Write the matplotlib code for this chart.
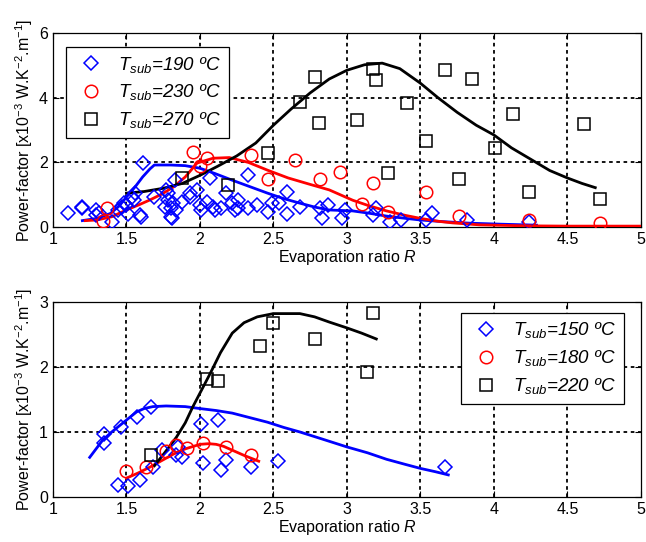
import matplotlib
matplotlib.use("Agg")
import matplotlib.pyplot as plt
from matplotlib.lines import Line2D

plt.rcParams['font.family'] = ['Liberation Sans', 'DejaVu Sans']
plt.rcParams['mathtext.fontset'] = 'custom'
plt.rcParams['mathtext.rm'] = 'Liberation Sans'
plt.rcParams['mathtext.it'] = 'Liberation Sans:italic'

# ---------------- Top panel data ----------------
top_labels = ["190 ºC", "230 ºC", "270 ºC"]

top_blue_x = [1.10, 1.20, 1.20, 1.29, 1.29, 1.31, 1.40, 1.44, 1.47, 1.48, 1.51, 1.50, 1.54, 1.55,
              1.56, 1.59, 1.60, 1.61, 1.69, 1.76, 1.77, 1.78, 1.78, 1.80, 1.80, 1.81, 1.82, 1.83,
              1.84, 1.88, 1.93, 1.93, 1.98, 2.00, 2.01, 2.05, 2.07, 2.09, 2.10, 2.14, 2.18, 2.22,
              2.24, 2.26, 2.26, 2.33, 2.33, 2.39, 2.46, 2.49, 2.54, 2.59, 2.59, 2.68, 2.82, 2.83,
              2.87, 2.97, 2.99, 3.18, 3.20, 3.29, 3.37, 3.54, 3.58, 3.82, 4.24]
top_blue_y = [0.43, 0.58, 0.62, 0.53, 0.37, 0.43, 0.16, 0.53, 0.62, 0.73, 0.42, 0.68, 0.93, 0.84,
              1.04, 0.37, 0.31, 1.97, 0.94, 0.62, 1.14, 0.84, 1.05, 0.58, 0.31, 0.27, 0.73, 1.46,
              0.53, 0.78, 0.94, 1.05, 1.14, 0.68, 0.53, 0.78, 1.52, 0.62, 0.53, 0.58, 1.04, 0.73,
              0.53, 0.84, 0.58, 1.61, 0.58, 0.68, 0.47, 0.73, 0.73, 1.09, 0.42, 0.62, 0.58, 0.27,
              0.68, 0.27, 0.53, 0.37, 0.58, 0.16, 0.22, 0.22, 0.43, 0.22, 0.16]

top_red_x = [1.34, 1.37, 1.95, 2.00, 2.05, 2.35, 2.46, 2.65, 2.82, 2.95, 3.10, 3.18, 3.28, 3.54,
             3.76, 4.24, 4.72]
top_red_y = [0.20, 0.58, 2.33, 1.90, 2.13, 2.23, 1.48, 2.07, 1.49, 1.70, 0.71, 1.36, 0.46, 1.08,
             0.34, 0.22, 0.12]

top_black_x = [1.88, 2.19, 2.46, 2.68, 2.78, 2.81, 3.07, 3.18, 3.20, 3.28, 3.41, 3.54, 3.67, 3.76,
               3.85, 4.01, 4.13, 4.24, 4.61, 4.72]
top_black_y = [1.52, 1.30, 2.29, 3.87, 4.65, 3.22, 3.31, 4.89, 4.55, 1.67, 3.84, 2.66, 4.86, 1.49,
               4.58, 2.44, 3.50, 1.08, 3.19, 0.87]

# fitted curves
top_blue_fit_x = [1.20, 1.30, 1.39, 1.45, 1.50, 1.56, 1.61, 1.66, 1.69, 1.80, 1.90, 2.00, 2.10, 2.22,
                  2.34, 2.46, 2.57, 2.68, 2.78, 2.88, 3.04, 3.15, 3.27, 3.40, 3.50, 3.65, 3.84, 4.05, 4.29]
top_blue_fit_y = [0.20, 0.27, 0.42, 0.65, 0.93, 1.25, 1.55, 1.80, 1.92, 1.92, 1.90, 1.82, 1.66, 1.45,
                  1.25, 1.05, 0.88, 0.74, 0.62, 0.53, 0.50, 0.43, 0.34, 0.27, 0.22, 0.17, 0.12, 0.09, 0.06]

top_red_fit_x = [1.22, 1.30, 1.40, 1.50, 1.58, 1.66, 1.74, 1.82, 1.90, 1.98, 2.09, 2.20, 2.33, 2.46,
                 2.60, 2.75, 2.88, 3.04, 3.15, 3.27, 3.40, 3.50, 3.62, 3.72, 3.90, 4.20, 4.50, 5.00]
top_red_fit_y = [0.20, 0.22, 0.32, 0.53, 0.68, 0.84, 1.02, 1.24, 1.55, 1.98, 2.13, 2.15, 2.00, 1.76,
                 1.52, 1.32, 1.15, 0.83, 0.66, 0.50, 0.36, 0.27, 0.18, 0.13, 0.07, 0.04, 0.03, 0.03]

top_black_fit_x = [1.50, 1.62, 1.75, 1.88, 2.00, 2.12, 2.25, 2.38, 2.50, 2.62, 2.75, 2.88, 3.00,
                   3.12, 3.24, 3.36, 3.50, 3.62, 3.75, 3.88, 4.00, 4.12, 4.25, 4.38, 4.50, 4.60, 4.69]
top_black_fit_y = [1.05, 1.10, 1.20, 1.35, 1.60, 1.88, 2.20, 2.60, 3.15, 3.65, 4.15, 4.58, 4.85,
                   5.02, 5.07, 4.90, 4.45, 4.00, 3.55, 3.15, 2.85, 2.45, 2.10, 1.75, 1.52, 1.35, 1.22]

# ---------------- Bottom panel data ----------------
bot_labels = ["150 ºC", "180 ºC", "220 ºC"]

bot_blue_x = [1.35, 1.35, 1.46, 1.57, 1.67, 1.74, 1.68, 1.44, 1.51, 1.59, 1.84, 1.88, 1.85, 2.01,
              2.02, 2.12, 2.14, 2.18, 2.35, 2.53, 3.67]
bot_blue_y = [0.97, 0.83, 1.08, 1.23, 1.38, 0.72, 0.46, 0.18, 0.17, 0.26, 0.64, 0.62, 0.77, 1.12,
              0.52, 1.18, 0.42, 0.57, 0.46, 0.55, 0.46]

bot_red_x = [1.50, 1.63, 1.77, 1.84, 1.91, 2.02, 2.18, 2.35]
bot_red_y = [0.40, 0.46, 0.70, 0.80, 0.75, 0.83, 0.77, 0.65]

bot_black_x = [1.67, 2.05, 2.12, 2.41, 2.50, 2.78, 3.18, 3.14]
bot_black_y = [0.65, 1.82, 1.78, 2.32, 2.68, 2.43, 2.83, 1.92]

bot_blue_fit_x = [1.25, 1.34, 1.40, 1.46, 1.52, 1.57, 1.62, 1.68, 1.77, 1.90, 2.00, 2.11, 2.22, 2.34,
                  2.46, 2.57, 2.68, 2.82, 3.00, 3.14, 3.27, 3.40, 3.50, 3.60, 3.69]
bot_blue_fit_y = [0.61, 0.88, 1.00, 1.11, 1.22, 1.31, 1.36, 1.39, 1.40, 1.39, 1.36, 1.33, 1.29, 1.22,
                  1.15, 1.07, 1.00, 0.90, 0.77, 0.68, 0.58, 0.50, 0.44, 0.39, 0.34]

bot_red_fit_x = [1.50, 1.58, 1.66, 1.74, 1.82, 1.90, 2.00, 2.06, 2.11, 2.16, 2.22, 2.30, 2.40]
bot_red_fit_y = [0.29, 0.37, 0.46, 0.56, 0.66, 0.74, 0.81, 0.82, 0.81, 0.78, 0.72, 0.64, 0.55]

bot_black_fit_x = [1.69, 1.76, 1.84, 1.90, 1.95, 2.01, 2.07, 2.14, 2.22, 2.30, 2.39, 2.50, 2.60,
                   2.68, 2.78, 2.88, 3.00, 3.10, 3.20]
bot_black_fit_y = [0.48, 0.68, 0.92, 1.14, 1.38, 1.64, 1.90, 2.22, 2.52, 2.68, 2.77, 2.82, 2.82,
                   2.82, 2.77, 2.69, 2.60, 2.52, 2.43]

x_ticks = [1, 1.5, 2, 2.5, 3, 3.5, 4, 4.5, 5]
x_ticklabels = ["1", "1.5", "2", "2.5", "3", "3.5", "4", "4.5", "5"]
top_yticks = [0, 2, 4, 6]
bot_yticks = [0, 1, 2, 3]

# ---------------- Plot ----------------
fig = plt.figure(figsize=(6.46, 5.42), dpi=100)
ax1 = fig.add_axes([0.082, 0.581, 0.910, 0.358])
ax2 = fig.add_axes([0.082, 0.083, 0.910, 0.360])

ms_d, ms_o, ms_s = 7.5, 9, 8.5
mew = 1.1
fs = 11.5

def style_axes(ax, yticks):
    ax.set_xlim(x_ticks[0], x_ticks[-1])
    ax.set_ylim(yticks[0], yticks[-1])
    ax.set_xticks(x_ticks)
    ax.set_xticklabels(x_ticklabels)
    ax.set_yticks(yticks)
    ax.tick_params(direction='in', length=4, labelsize=fs, top=True, right=True, width=0.8)
    for xv in x_ticks[1:-1]:
        ax.plot([xv, xv], [yticks[0], yticks[-1]], color='black', linestyle=(0, (2.0, 2.0)),
                linewidth=1.3, zorder=1)
    for yv in yticks[1:-1]:
        ax.plot([x_ticks[0], x_ticks[-1]], [yv, yv], color='black', linestyle=(0, (2.0, 2.0)),
                linewidth=1.3, zorder=1)
    for s in ax.spines.values():
        s.set_linewidth(0.9)
    ax.set_xlabel("Evaporation ratio $\\mathit{R}$", fontsize=fs, labelpad=1)
    ax.set_ylabel("Power-factor [x10$^{-3}$ W.K$^{-2}$.m$^{-1}$]", fontsize=fs, labelpad=3)

# top
style_axes(ax1, top_yticks)
ax1.plot(top_blue_fit_x, top_blue_fit_y, color='blue', lw=2.0, zorder=3)
ax1.plot(top_red_fit_x, top_red_fit_y, color='red', lw=2.0, zorder=3)
ax1.plot(top_black_fit_x, top_black_fit_y, color='black', lw=2.0, zorder=3)
ax1.plot(top_blue_x, top_blue_y, 'D', ms=ms_d, mfc='none', mec='blue', mew=mew, ls='none', zorder=4)
ax1.plot(top_red_x, top_red_y, 'o', ms=ms_o, mfc='none', mec='red', mew=mew, ls='none', zorder=4)
ax1.plot(top_black_x, top_black_y, 's', ms=ms_s, mfc='none', mec='black', mew=mew, ls='none', zorder=4)

# bottom
style_axes(ax2, bot_yticks)
ax2.plot(bot_blue_fit_x, bot_blue_fit_y, color='blue', lw=2.0, zorder=3)
ax2.plot(bot_red_fit_x, bot_red_fit_y, color='red', lw=2.0, zorder=3)
ax2.plot(bot_black_fit_x, bot_black_fit_y, color='black', lw=2.0, zorder=3)
ax2.plot(bot_blue_x, bot_blue_y, 'D', ms=ms_d, mfc='none', mec='blue', mew=mew, ls='none', zorder=4)
ax2.plot(bot_red_x, bot_red_y, 'o', ms=ms_o, mfc='none', mec='red', mew=mew, ls='none', zorder=4)
ax2.plot(bot_black_x, bot_black_y, 's', ms=ms_s, mfc='none', mec='black', mew=mew, ls='none', zorder=4)

def make_handles():
    return [Line2D([], [], marker='D', ms=ms_d, mfc='none', mec='blue', mew=mew, ls='none'),
            Line2D([], [], marker='o', ms=ms_o, mfc='none', mec='red', mew=mew, ls='none'),
            Line2D([], [], marker='s', ms=ms_s, mfc='none', mec='black', mew=mew, ls='none')]

def make_labels(labels):
    return ["$\\mathit{T}_{\\mathit{sub}}$=" + lab for lab in labels]

leg_kw = dict(prop={'style': 'italic', 'size': 13.5}, fancybox=False, edgecolor='black',
              framealpha=1, borderpad=0.4, handletextpad=0.5, labelspacing=0.42,
              handlelength=1.9, borderaxespad=0.0)
leg1 = ax1.legend(make_handles(), make_labels(top_labels), loc='upper left',
                  bbox_to_anchor=(0.022, 0.928), **leg_kw)
leg1.get_frame().set_linewidth(0.9)
leg1.set_zorder(10)
leg2 = ax2.legend(make_handles(), make_labels(bot_labels), loc='upper right',
                  bbox_to_anchor=(0.971, 0.944), **leg_kw)
leg2.get_frame().set_linewidth(0.9)
leg2.set_zorder(10)

fig.savefig("out.png", dpi=100)
